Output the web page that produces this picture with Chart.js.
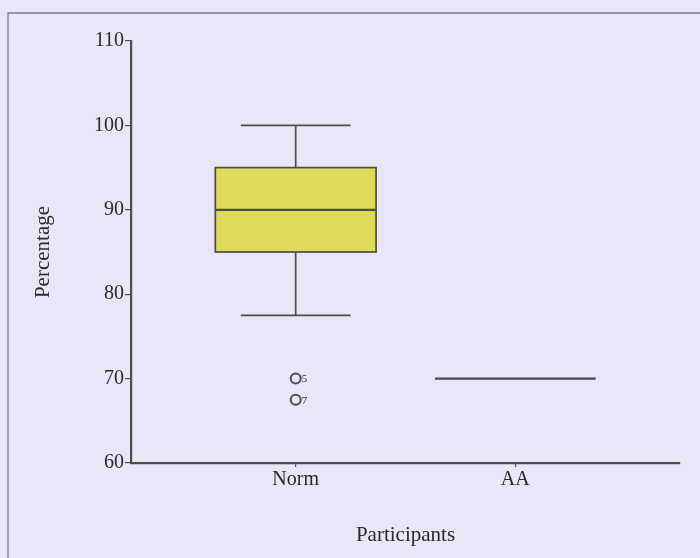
<!DOCTYPE html>
<html>
<head>
<meta charset="utf-8">
<script src="https://cdn.jsdelivr.net/npm/chart.js@4.4.0/dist/chart.umd.min.js"></script>
<style>
  html, body { margin: 0; padding: 0; background: #e8e6f7; }
  #wrap { width: 700px; height: 558px; }
</style>
</head>
<body>
<div id="wrap"><canvas id="box-chart" width="700" height="558"></canvas></div>
<script>
// data
const categories = ["Norm", "AA"];
const whiskerLow = [77.5, 70];
const q1 = [85, 70];
const median = [90, 70];
const q3 = [95, 70];
const whiskerHigh = [100, 70];
const outlierValues = [70, 67.5];
const outlierLabels = ["5", "7"];
const outlierGroup = [0, 0];
const yTicks = [60, 70, 80, 90, 100, 110];

const lineColor = "#4c4c4c";
const textColor = "#2a2a2a";
const serif = "'Liberation Serif', 'Times New Roman', serif";

// box and whiskers drawn through the chart's own scales
const boxPlugin = {
  id: "boxes",
  beforeDraw(chart) {
    const { ctx, width, height } = chart;
    ctx.save();
    ctx.fillStyle = "#e8e6f7";
    ctx.fillRect(0, 0, width, height);
    ctx.strokeStyle = "#7c7a88";
    ctx.lineWidth = 1.3;
    ctx.beginPath();
    ctx.moveTo(8, height);
    ctx.lineTo(8, 13);
    ctx.lineTo(width, 13);
    ctx.stroke();
    ctx.restore();
  },
  afterDatasetsDraw(chart) {
    const { ctx, scales } = chart;
    const x = scales.x, y = scales.y;
    ctx.save();
    ctx.strokeStyle = lineColor;
    ctx.lineWidth = 1.7;
    categories.forEach((cat, i) => {
      const cx = x.getPixelForValue(i + 1);
      const left = x.getPixelForValue(i + 1 - 0.366);
      const right = x.getPixelForValue(i + 1 + 0.366);
      const capL = x.getPixelForValue(i + 1 - 0.25);
      const capR = x.getPixelForValue(i + 1 + 0.25);
      const yq1 = y.getPixelForValue(q1[i]);
      const yq3 = y.getPixelForValue(q3[i]);
      const ymed = y.getPixelForValue(median[i]);
      const ylo = y.getPixelForValue(whiskerLow[i]);
      const yhi = y.getPixelForValue(whiskerHigh[i]);
      if (yq1 - yq3 > 0) {
        ctx.beginPath();
        ctx.moveTo(cx, yq3); ctx.lineTo(cx, yhi);
        ctx.moveTo(capL, yhi); ctx.lineTo(capR, yhi);
        ctx.moveTo(cx, yq1); ctx.lineTo(cx, ylo);
        ctx.moveTo(capL, ylo); ctx.lineTo(capR, ylo);
        ctx.stroke();
        ctx.fillStyle = "#dedb5c";
        ctx.fillRect(left, yq3, right - left, yq1 - yq3);
        ctx.strokeRect(left, yq3, right - left, yq1 - yq3);
      }
      ctx.lineWidth = 2.2;
      ctx.beginPath();
      ctx.moveTo(left, ymed); ctx.lineTo(right, ymed);
      ctx.stroke();
      ctx.lineWidth = 1.7;
    });
    // outlier case numbers
    ctx.fillStyle = textColor;
    ctx.font = "11px " + serif;
    ctx.textBaseline = "middle";
    outlierValues.forEach((v, k) => {
      const px = x.getPixelForValue(outlierGroup[k] + 1);
      const py = y.getPixelForValue(v);
      ctx.fillText(outlierLabels[k], px + 6, py + 1);
    });
    ctx.restore();
  }
};

new Chart(document.getElementById("box-chart"), {
  type: "scatter",
  data: {
    datasets: [
      {
        label: "outliers",
        data: outlierValues.map((v, k) => ({ x: outlierGroup[k] + 1, y: v })),
        pointStyle: "circle",
        pointRadius: 5,
        pointBorderWidth: 2,
        pointBorderColor: lineColor,
        pointBackgroundColor: "rgba(0,0,0,0)",
      },
    ],
  },
  options: {
    responsive: false,
    animation: false,
    layout: { padding: { top: 41, right: 20, left: 0, bottom: 0 } },
    plugins: { legend: { display: false }, tooltip: { enabled: false } },
    scales: {
      x: {
        type: "linear",
        min: 0.25,
        max: 2.75,
        afterBuildTicks: (scale) => {
          scale.ticks = categories.map((c, i) => ({ value: i + 1 }));
        },
        afterFit: (scale) => { scale.height = 95; },
        ticks: {
          callback: (v) => categories[v - 1],
          color: textColor,
          font: { family: serif, size: 20 },
          padding: 1,
        },
        grid: { drawOnChartArea: false, tickLength: 4, color: lineColor, lineWidth: 1.2 },
        border: { color: lineColor, width: 2.2 },
        title: {
          display: true,
          text: "Participants",
          color: textColor,
          font: { family: serif, size: 21 },
          padding: { top: 0, bottom: 10 },
        },
      },
      y: {
        min: 60,
        max: 110,
        afterBuildTicks: (scale) => {
          scale.ticks = yTicks.map((v) => ({ value: v }));
        },
        afterFit: (scale) => { scale.width = 131; },
        ticks: {
          color: textColor,
          font: { family: serif, size: 20 },
          padding: 1,
        },
        grid: { drawOnChartArea: false, tickLength: 6, color: lineColor, lineWidth: 1.2 },
        border: { color: lineColor, width: 2.2 },
        title: {
          display: true,
          text: "Percentage",
          color: textColor,
          font: { family: serif, size: 21 },
          padding: { top: 31, bottom: 0 },
        },
      },
    },
  },
  plugins: [boxPlugin],
});
</script>
</body>
</html>
